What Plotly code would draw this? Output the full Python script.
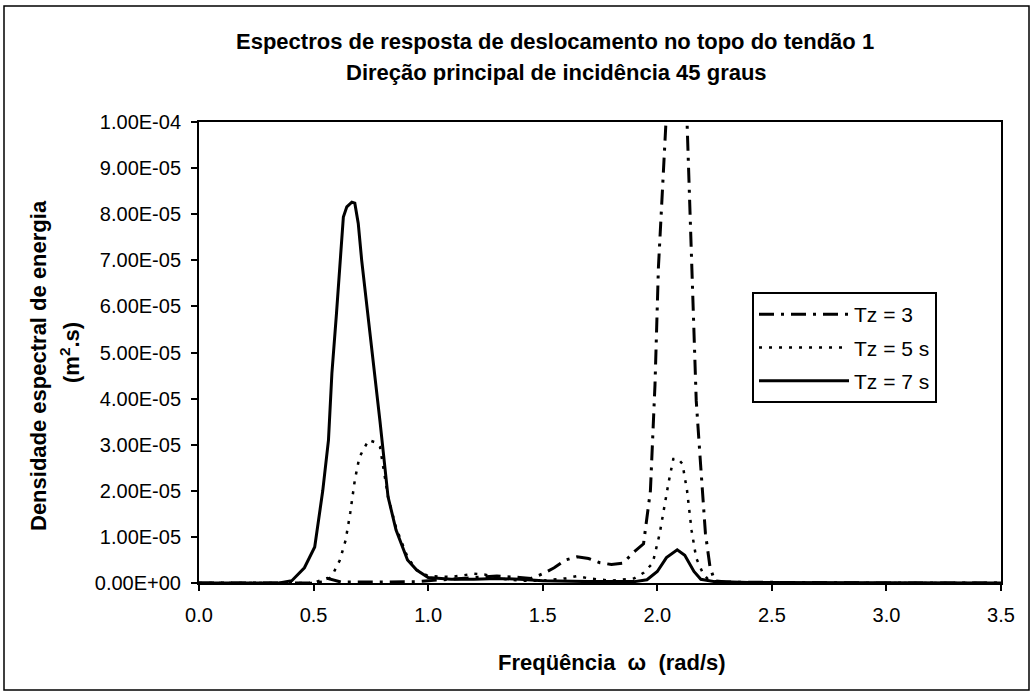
import plotly.graph_objects as go

# ---------------- data (in m^2.s) ----------------
x_tz3 = [0.0, 0.50, 0.56, 0.62, 0.75, 0.85, 0.95, 1.0, 1.1, 1.2, 1.3, 1.4, 1.45, 1.5, 1.55, 1.6, 1.65,
         1.7, 1.75, 1.8, 1.85, 1.9, 1.94, 1.97, 1.99, 2.005, 2.035, 2.06, 2.085, 2.11, 2.13, 2.144,
         2.157, 2.17, 2.19, 2.21, 2.23, 2.25, 2.3, 2.5, 3.0, 3.5]
y_tz3 = [0.0, 0.0, 0.1e-5, 0.02e-5, 0.02e-5, 0.02e-5, 0.03e-5, 0.05e-5, 0.08e-5, 0.12e-5, 0.15e-5,
         0.12e-5, 0.1e-5, 0.2e-5, 0.33e-5, 0.5e-5, 0.57e-5, 0.53e-5, 0.44e-5, 0.4e-5, 0.43e-5, 0.68e-5,
         0.85e-5, 2.0e-5, 4.3e-5, 6.85e-5, 10.0e-5, 13.0e-5, 14.5e-5, 13.0e-5, 10.0e-5, 8.3e-5,
         6.1e-5, 3.95e-5, 2.5e-5, 1.08e-5, 0.35e-5, 0.05e-5, 0.02e-5, 0.01e-5, 0.0, 0.0]

x_tz5 = [0.0, 0.50, 0.56, 0.585, 0.615, 0.64, 0.66, 0.68, 0.70, 0.74, 0.77, 0.79, 0.825, 0.86, 0.91,
         0.95, 1.0, 1.1, 1.2, 1.25, 1.3, 1.4, 1.5, 1.6, 1.65, 1.7, 1.8, 1.9, 1.94, 1.98, 2.01, 2.03,
         2.05, 2.07, 2.09, 2.11, 2.13, 2.15, 2.17, 2.2, 2.23, 2.3, 2.5, 3.0, 3.5]
y_tz5 = [0.0, 0.0, 0.05e-5, 0.2e-5, 0.5e-5, 0.93e-5, 1.52e-5, 2.23e-5, 2.73e-5, 3.1e-5, 3.05e-5,
         2.95e-5, 1.87e-5, 1.2e-5, 0.56e-5, 0.28e-5, 0.15e-5, 0.13e-5, 0.2e-5, 0.18e-5, 0.1e-5,
         0.05e-5, 0.05e-5, 0.1e-5, 0.15e-5, 0.1e-5, 0.05e-5, 0.1e-5, 0.22e-5, 0.43e-5, 1.06e-5,
         1.65e-5, 2.2e-5, 2.69e-5, 2.7e-5, 2.58e-5, 2.0e-5, 1.13e-5, 0.54e-5, 0.2e-5, 0.03e-5,
         0.01e-5, 0.0, 0.0, 0.0]

x_tz7 = [0.0, 0.35, 0.405, 0.46, 0.505, 0.54, 0.565, 0.58, 0.60, 0.63, 0.645, 0.667, 0.68, 0.695,
         0.71, 0.755, 0.79, 0.825, 0.86, 0.91, 0.95, 1.0, 1.1, 1.2, 1.3, 1.4, 1.5, 1.7, 1.9, 1.955,
         2.0, 2.04, 2.087, 2.12, 2.16, 2.19, 2.25, 2.4, 3.0, 3.5]
y_tz7 = [0.0, 0.0, 0.05e-5, 0.33e-5, 0.78e-5, 2.0e-5, 3.1e-5, 4.55e-5, 5.85e-5, 7.94e-5, 8.16e-5,
         8.26e-5, 8.24e-5, 7.8e-5, 7.0e-5, 5.1e-5, 3.5e-5, 1.87e-5, 1.15e-5, 0.5e-5, 0.28e-5,
         0.12e-5, 0.08e-5, 0.08e-5, 0.1e-5, 0.08e-5, 0.05e-5, 0.03e-5, 0.03e-5, 0.07e-5, 0.25e-5,
         0.55e-5, 0.72e-5, 0.6e-5, 0.25e-5, 0.08e-5, 0.03e-5, 0.01e-5, 0.0, 0.0]

series_names = ["Tz = 3", "Tz = 5 s", "Tz = 7 s"]

x_tickvals = [0.0, 0.5, 1.0, 1.5, 2.0, 2.5, 3.0, 3.5]
x_ticktext = ["0.0", "0.5", "1.0", "1.5", "2.0", "2.5", "3.0", "3.5"]
y_tickvals = [0.0, 1e-5, 2e-5, 3e-5, 4e-5, 5e-5, 6e-5, 7e-5, 8e-5, 9e-5, 1e-4]
y_ticktext = ["0.00E+00", "1.00E-05", "2.00E-05", "3.00E-05", "4.00E-05", "5.00E-05",
              "6.00E-05", "7.00E-05", "8.00E-05", "9.00E-05", "1.00E-04"]

title_lines = ["Espectros de resposta de deslocamento no topo do tendão 1",
               "Direção principal de incidência 45 graus"]
y_title_lines = ["Densidade espectral de energia", "(m<sup>2</sup>.s)"]
x_title = "Freqüência  ω  (rad/s)"

# ---------------- figure ----------------
FONT = "Liberation Sans, Arial, sans-serif"
fig = go.Figure()

fig.add_trace(go.Scatter(x=x_tz3, y=y_tz3, mode="lines", name=series_names[0], legendgroup="a",
                         line=dict(color="black", width=3, dash="15px,7px,3px,7px")))
fig.add_trace(go.Scatter(x=x_tz5, y=y_tz5, mode="lines", name=series_names[1], legendgroup="b",
                         line=dict(color="black", width=2.5, dash="3px,7px")))
fig.add_trace(go.Scatter(x=x_tz7, y=y_tz7, mode="lines", name=series_names[2], legendgroup="c",
                         line=dict(color="black", width=3)))

axis_common = dict(showgrid=False, zeroline=False, showline=True, linecolor="black", linewidth=2,
                   mirror=True, ticks="outside", tickcolor="black", tickwidth=1.5, ticklen=6,
                   tickfont=dict(family=FONT, size=20, color="black"))

fig.update_xaxes(range=[0, 3.5], tickvals=x_tickvals, ticktext=x_ticktext,
                 ticklabelstandoff=7, **axis_common)
fig.update_yaxes(range=[0, 1e-4], tickvals=y_tickvals, ticktext=y_ticktext,
                 ticklabelstandoff=6, **axis_common)

annotations = [
    dict(text="<b>" + title_lines[0] + "</b>", x=(555 - 199) / 802, y=(583 - 42) / 461, size=22),
    dict(text="<b>" + title_lines[1] + "</b>", x=(556 - 199) / 802, y=(583 - 73) / 461, size=22),
    dict(text="<b>" + x_title + "</b>", x=(612 - 199) / 802, y=(583 - 662) / 461, size=22),
    dict(text="<b>" + y_title_lines[0] + "</b>", x=(38 - 199) / 802, y=(583 - 366) / 461,
         textangle=-90, size=22),
    dict(text="<b>" + y_title_lines[1] + "</b>", x=(70 - 199) / 802, y=(583 - 353) / 461,
         textangle=-90, size=22),
]
for a in annotations:
    s = a.pop("size")
    a.update(xref="paper", yref="paper", showarrow=False, xanchor="center", yanchor="middle",
             font=dict(family=FONT, size=s, color="black"))

fig.update_layout(
    width=1033, height=695,
    margin=dict(l=199, r=32, t=122, b=112),
    paper_bgcolor="white", plot_bgcolor="white",
    annotations=annotations,
    legend=dict(x=(752 - 199) / 802, y=(583 - 292) / 461, xanchor="left", yanchor="top",
                bgcolor="white", bordercolor="black", borderwidth=2, itemwidth=90,
                font=dict(family=FONT, size=21, color="black"), tracegroupgap=3),
    shapes=[dict(type="rect", xref="paper", yref="paper",
                 x0=(4 - 199) / 802, x1=(1029 - 199) / 802,
                 y0=(583 - 690) / 461, y1=(583 - 6) / 461,
                 line=dict(color="black", width=1.5))],
)

fig.write_html("out.html")
